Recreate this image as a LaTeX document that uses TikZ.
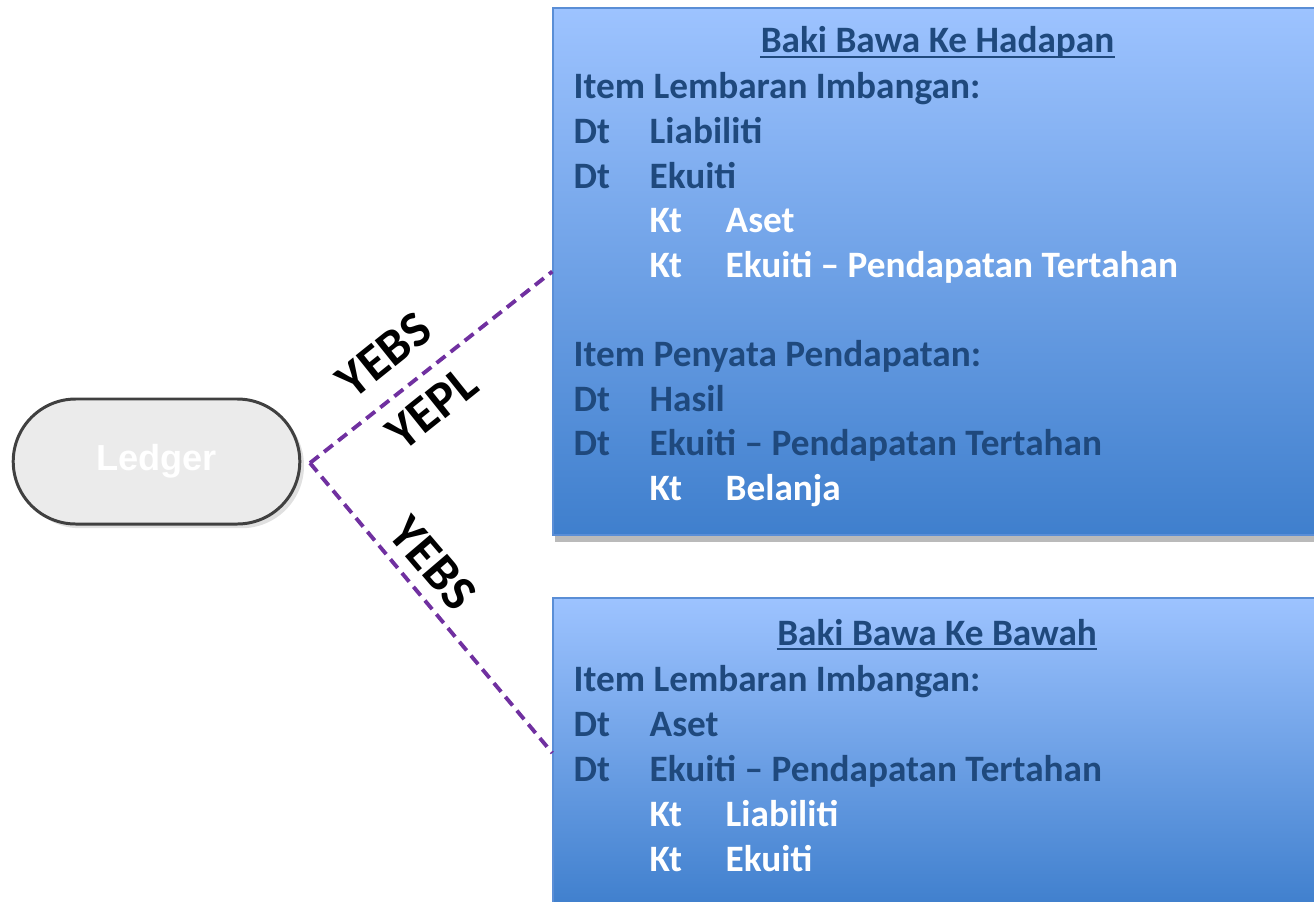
\documentclass[tikz,border=0pt]{standalone}
\usepackage{fontspec}
\setmainfont{Carlito}
\newfontfamily\arialfont{Liberation Sans}
\usepackage{tikz}
\usetikzlibrary{shapes.misc, shadows}

\definecolor{txtblue}{HTML}{1F497D}
\definecolor{boxtop}{HTML}{9DC3FF}
\definecolor{boxbot}{HTML}{3F7FCD}
\definecolor{boxline}{HTML}{5A8ED6}
\definecolor{yepurple}{HTML}{7030A0}

\newcommand{\kol}[1]{\makebox[0.76cm][l]{#1}}

\tikzset{
  ledger/.style={rounded rectangle, draw=black!75, line width=0.85pt, fill=black!8,
    minimum width=3.1cm, minimum height=1.25cm, text=white,
    font=\arialfont\fontsize{10.3}{12}\selectfont\bfseries,
    drop shadow={shadow xshift=1.2pt, shadow yshift=-1.2pt, fill=black!12, opacity=1}},
  baki/.style={rectangle, draw=boxline, line width=0.4pt, top color=boxtop, bottom color=boxbot,
    minimum width=7.67cm, inner sep=0pt,
    drop shadow={shadow xshift=0.6pt, shadow yshift=-2pt, fill=black!45, opacity=0.6}},
  debit/.style={anchor=base west, inner sep=0pt, text=txtblue,
    font=\fontsize{10.6}{13}\selectfont\bfseries},
  kredit/.style={debit, text=white},
  tajuk/.style={debit, anchor=base},
  yeline/.style={yepurple, line width=1.1pt, dash pattern=on 3.2pt off 1.9pt},
  yelabel/.style={inner sep=0pt, font=\fontsize{14.5}{16}\selectfont\bfseries}
}

\begin{document}
\begin{tikzpicture}
  \useasboundingbox (0,0) rectangle (13.14,-9.01);
  \clip (0,0) rectangle (13.14,-9.01);

  \node[ledger] (ledger) at (1.565,-4.615) {Ledger};
  \node[baki, minimum height=5.27cm] (hadapan) at (9.365,-2.715) {};
  \node[baki, minimum height=3.1cm] (bawah) at (9.365,-7.53) {};

  % carried forward
  \node[tajuk] (t1) at (9.375,-0.53) {Baki Bawa Ke Hadapan};
  \draw[txtblue, line width=0.6pt] ([yshift=-1.2pt]t1.base west) -- ([yshift=-1.2pt]t1.base east);
  \node[debit] (h1) at (5.73,-0.99) {Item Lembaran Imbangan:};
  \node[debit] (h2) at (5.73,-1.436) {\kol{Dt}Liabiliti};
  \node[debit] (h3) at (5.73,-1.882) {\kol{Dt}Ekuiti};
  \node[kredit] (h4) at (6.49,-2.328) {\kol{Kt}Aset};
  \node[kredit] (h5) at (6.49,-2.774) {\kol{Kt}Ekuiti -- Pendapatan Tertahan};
  \node[debit] (h6) at (5.73,-3.666) {Item Penyata Pendapatan:};
  \node[debit] (h7) at (5.73,-4.112) {\kol{Dt}Hasil};
  \node[debit] (h8) at (5.73,-4.558) {\kol{Dt}Ekuiti -- Pendapatan Tertahan};
  \node[kredit] (h9) at (6.49,-5.004) {\kol{Kt}Belanja};

  % brought down
  \node[tajuk] (t2) at (9.37,-6.45) {Baki Bawa Ke Bawah};
  \draw[txtblue, line width=0.6pt] ([yshift=-1.2pt]t2.base west) -- ([yshift=-1.2pt]t2.base east);
  \node[debit] (b1) at (5.73,-6.91) {Item Lembaran Imbangan:};
  \node[debit] (b2) at (5.73,-7.36) {\kol{Dt}Aset};
  \node[debit] (b3) at (5.73,-7.81) {\kol{Dt}Ekuiti -- Pendapatan Tertahan};
  \node[kredit] (b4) at (6.49,-8.26) {\kol{Kt}Liabiliti};
  \node[kredit] (b5) at (6.49,-8.71) {\kol{Kt}Ekuiti};

  \coordinate (split) at (3.10,-4.63);
  \foreach \to in {hadapan, bawah}
    \draw[yeline] (split) -- (\to.west);

  \node[yelabel, rotate=38.7] (ye1) at (3.84,-3.55) {YEBS};
  \node[yelabel, rotate=38.7] (ye2) at (4.32,-4.08) {YEPL};
  \node[yelabel, rotate=-49.5] (ye3) at (4.33,-5.63) {YEBS};
\end{tikzpicture}
\end{document}
